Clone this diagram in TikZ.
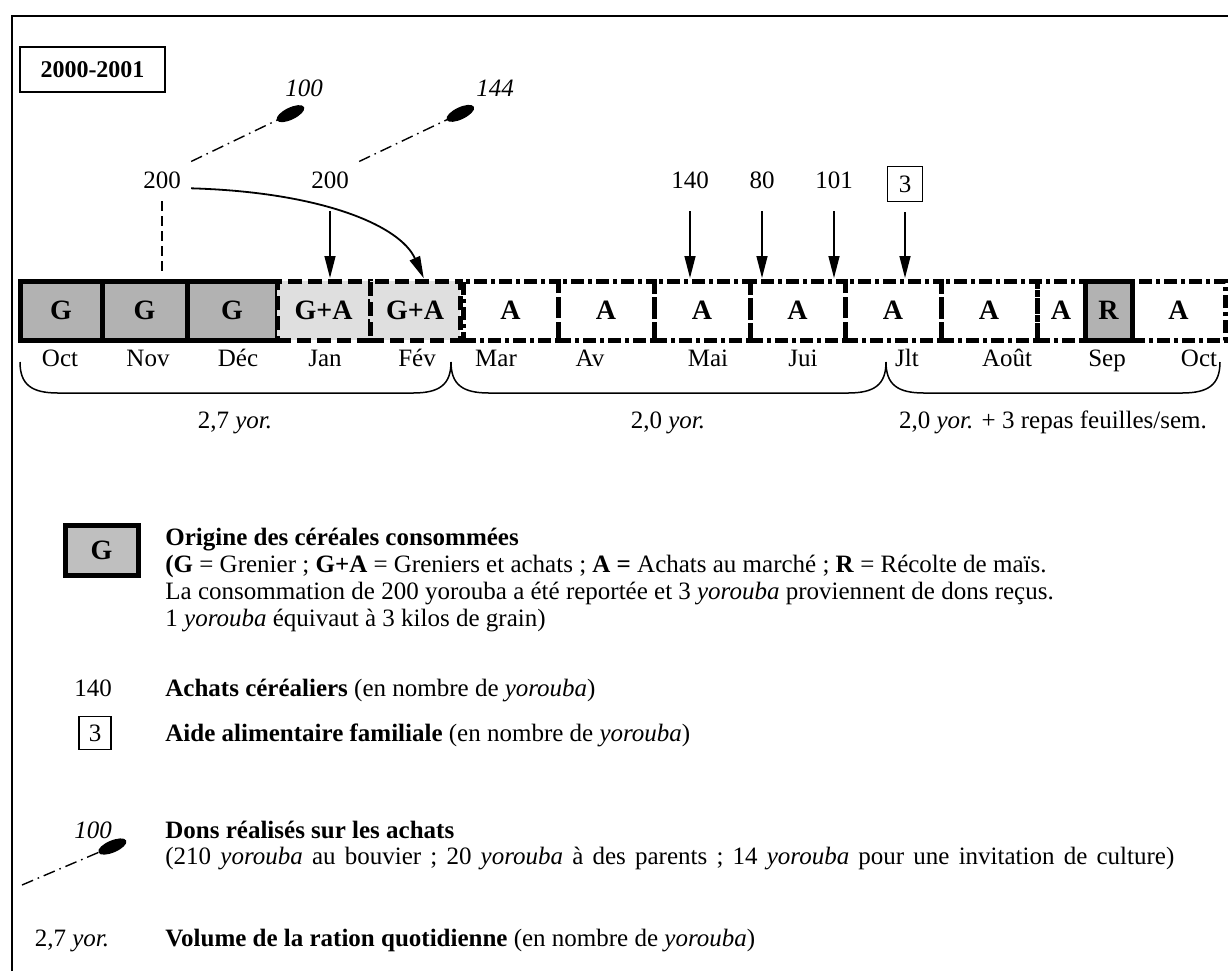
\documentclass[tikz,border=0pt]{standalone}
\usepackage{fontspec}
\setmainfont{Liberation Serif}
\usetikzlibrary{arrows.meta,positioning}

\begin{document}
\fontsize{12.5}{13.5}\selectfont
\begin{tikzpicture}[
  x=0.5pt, y=-0.5pt,
  cell/.style={draw, line width=2.5pt, minimum height=29.5pt, inner sep=0, outer sep=0, font=\fontsize{14}{16}\selectfont\bfseries},
  grenier/.style={cell, fill=gray!60},
  mixte/.style={cell, fill=gray!25, dash pattern=on 7pt off 3pt},
  achat/.style={cell, dash pattern=on 6.5pt off 2pt on 2pt off 2pt},
  recolte/.style={cell, fill=gray!60},
  mois/.style={anchor=base},
  qte/.style={anchor=base, inner sep=1pt},
  aide/.style={draw, line width=0.6pt, minimum width=17.5pt, minimum height=17.5pt, inner sep=0},
  arr/.style={-{Triangle[length=11pt,width=5.5pt]}, line width=0.7pt, shorten >=1.5pt},
  don/.style={-{Ellipse[length=15pt,width=6pt]}, line width=0.7pt, dash pattern=on 6pt off 2.5pt on 0.8pt off 2.5pt},
  accolade/.style={line width=0.75pt},
  legende/.style={anchor=base west, inner sep=0},
]
  \useasboundingbox (0,0) rectangle (1228,971);
  \draw[line width=1pt] (12,971) -- (12,16) -- (1228,16);

  \node[draw, line width=1.3pt, minimum width=72.5pt, minimum height=22.5pt, font=\fontsize{12}{14}\selectfont\bfseries] (annee) at (92.5,69.5) {2000-2001};

  % les mois
  \node[grenier, minimum width=41pt] (g1) at (61,310.5) {G};
  \node[grenier, minimum width=42.5pt, right=0pt of g1] (g2) {G};
  \node[grenier, minimum width=45pt, right=0pt of g2] (g3) {G};
  \node[mixte, minimum width=46.5pt, right=0pt of g3] (ga1) {G+A};
  \node[mixte, minimum width=45pt, right=0pt of ga1] (ga2) {G+A};
  \node[achat, minimum width=47.5pt, right=1.5pt of ga2] (a1) {A};
  \node[achat, minimum width=48pt, right=0pt of a1] (a2) {A};
  \node[achat, minimum width=48pt, right=0pt of a2] (a3) {A};
  \node[achat, minimum width=47.5pt, right=0pt of a3] (a4) {A};
  \node[achat, minimum width=48pt, right=0pt of a4] (a5) {A};
  \node[achat, minimum width=48pt, right=0pt of a5] (a6) {A};
  \node[achat, minimum width=24pt, right=0pt of a6] (a7) {A};
  \node[recolte, minimum width=23.5pt, right=0pt of a7] (r1) {R};
  \node[achat, minimum width=46.5pt, right=0pt of r1] (a8) {A};

  \node[mois] (oct1) at (60,366.5) {Oct};
  \node[mois] (nov) at (148,366.5) {Nov};
  \node[mois] (dec) at (238,366.5) {Déc};
  \node[mois] (jan) at (325,366.5) {Jan};
  \node[mois] (fev) at (417,366.5) {Fév};
  \node[mois] (mar) at (496,366.5) {Mar};
  \node[mois] (avr) at (590,366.5) {Av};
  \node[mois] (mai) at (708,366.5) {Mai};
  \node[mois] (juin) at (803,366.5) {Jui};
  \node[mois] (juil) at (907,366.5) {Jlt};
  \node[mois] (aout) at (1007,366.5) {Août};
  \node[mois] (sep) at (1107,366.5) {Sep};
  \node[mois] (oct2) at (1199,366.5) {Oct};

  % rations
  \draw[accolade] (20,362) .. controls (20,385) and (32,393) .. (58,393) -- (413,393) .. controls (439,393) and (451,385) .. (451,362);
  \draw[accolade] (451,362) .. controls (451,385) and (463,393) .. (489,393) -- (848,393) .. controls (874,393) and (886,385) .. (886,362);
  \draw[accolade] (886,362) .. controls (886,385) and (898,393) .. (924,393) -- (1182,393) .. controls (1208,393) and (1220,385) .. (1220,362);
  \node[mois] (ration1) at (235,428) {2,7 \textit{yor.}};
  \node[mois] (ration2) at (668,428) {2,0 \textit{yor.}};
  \node[mois] (ration3) at (1053,428) {2,0 \textit{yor.} + 3 repas feuilles/sem.};

  % achats, report et dons
  \node[qte] (n200a) at (162,188.5) {200};
  \node[qte] (n200b) at (330,188.5) {200};
  \node[qte, font=\itshape] (n100) at (304,96.5) {100};
  \node[qte, font=\itshape] (n144) at (495,96.5) {144};
  \node[qte] (n140) at (690,188.5) {140};
  \node[qte] (n80) at (762,188.5) {80};
  \node[qte] (n101) at (834,188.5) {101};
  \node[aide] (n3) at (905,184) {3};

  \draw[line width=0.6pt, dash pattern=on 5pt off 2.5pt, shorten <=5pt, shorten >=4pt] (n200a.south) -- (n200a.south |- g2.north);
  \draw[arr, line width=0.9pt] ([xshift=4pt,yshift=-4pt]n200a.east) .. controls (320,192) and (400,225) .. ([xshift=5pt]ga2.north);
  \draw[arr, shorten <=10pt] (n200b.south) -- (n200b.south |- ga1.north);
  \draw[arr, shorten <=10pt] (n140.south) -- (n140.south |- a3.north);
  \draw[arr, shorten <=10pt] (n80.south) -- (n80.south |- a4.north);
  \draw[arr, shorten <=10pt] (n101.south) -- (n101.south |- a4.north);
  \draw[arr, shorten <=5pt] (n3.south) -- (n3.south |- a5.north);
  \draw[don] ([xshift=4pt,yshift=4pt]n200a.north east) -- ([yshift=-4pt]n100.south);
  \draw[don] ([xshift=4pt,yshift=4pt]n200b.north east) -- ([yshift=-4pt]n144.south west);

  % legende
  \node[grenier, fill=gray!50, minimum width=36.5pt, minimum height=25pt] (lg) at (101.5,550) {G};
  \node[anchor=north west, align=left, inner sep=0] (lorig) at (165,528) {\textbf{Origine des céréales consommées}\\
    \textbf{(G} = Grenier ; \textbf{G+A} = Greniers et achats ; \textbf{A =} Achats au marché ; \textbf{R} = Récolte de maïs.\\
    La consommation de 200 yorouba a été reportée et 3 \textit{yorouba} proviennent de dons reçus.\\
    1 \textit{yorouba} équivaut à 3 kilos de grain)};

  \node[qte] (l140) at (93,696.5) {140};
  \node[legende] (lachat) at (165,696.5) {\textbf{Achats céréaliers} (en nombre de \textit{yorouba})};

  \node[aide, minimum width=16pt, minimum height=16.5pt] (l3) at (95,733) {3};
  \node[legende] (laide) at (165,741) {\textbf{Aide alimentaire familiale} (en nombre de \textit{yorouba})};

  \node[qte, font=\itshape] (l100) at (93,838) {100};
  \coordinate (ld) at (22,885);
  \draw[don] (ld) -- ([xshift=6pt,yshift=0pt]l100.south east);
  \node[legende] (ldon) at (165,838) {\textbf{Dons réalisés sur les achats}};
  \node[legende] (ldon2) at (165,864) {\spaceskip=4.6pt (210 \textit{yorouba} au bouvier ; 20 \textit{yorouba} à des parents ; 14 \textit{yorouba} pour une invitation de culture)};

  \node[qte] (l27) at (72,946.5) {2,7 \textit{yor.}};
  \node[legende] (lvol) at (165,946.5) {\textbf{Volume de la ration quotidienne} (en nombre de \textit{yorouba})};
\end{tikzpicture}
\end{document}
